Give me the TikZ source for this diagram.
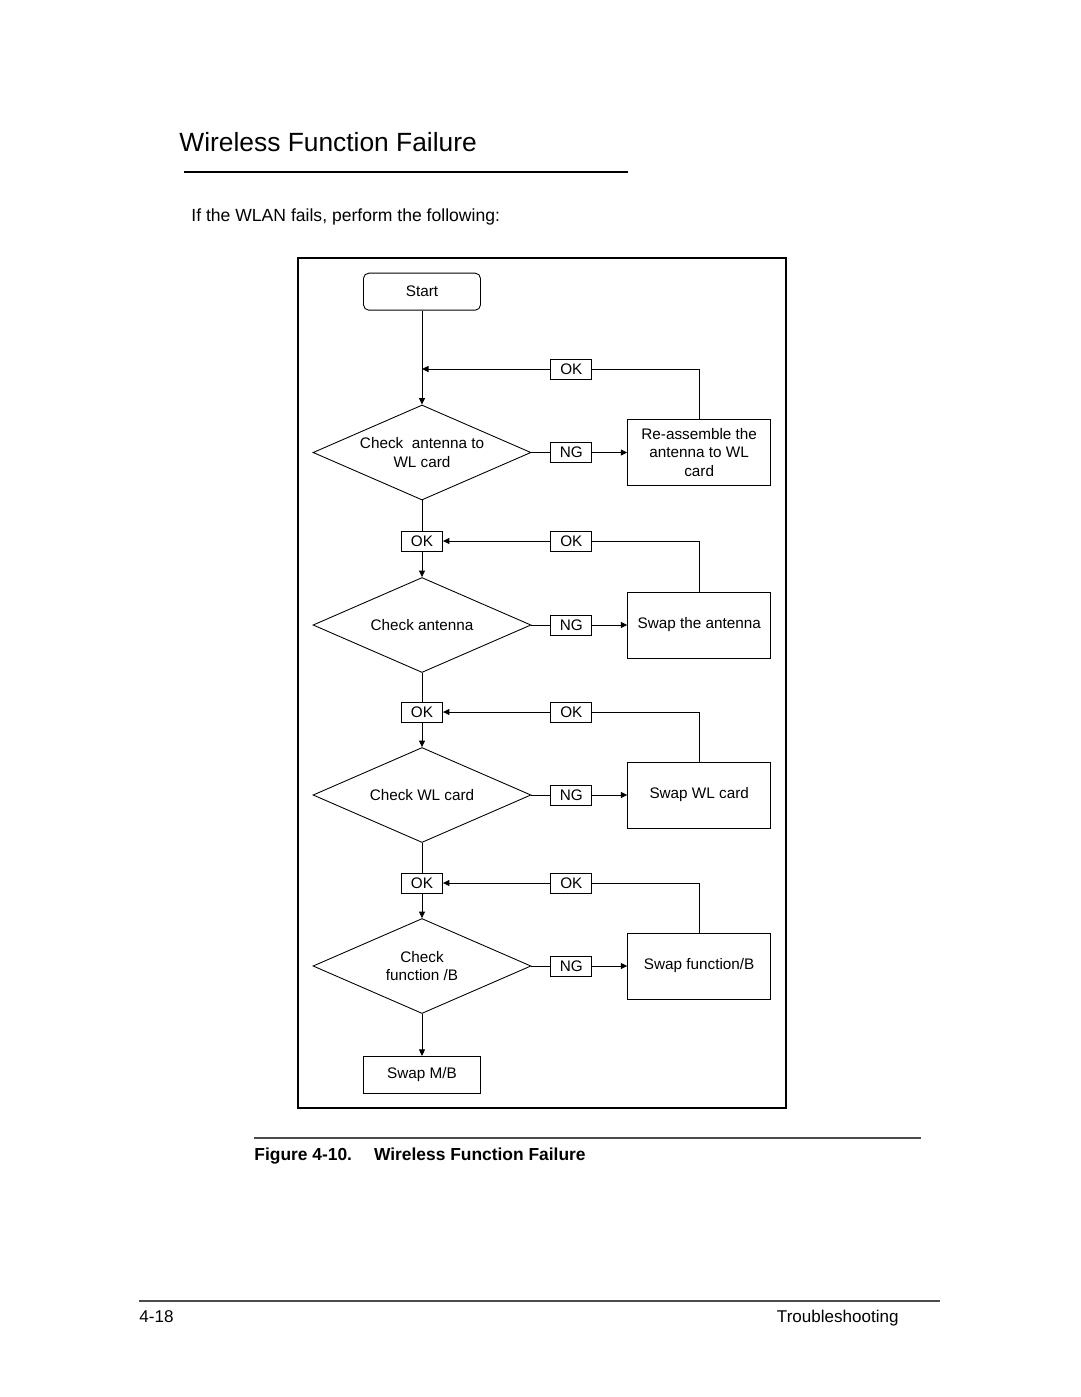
\documentclass[tikz,border=0pt]{standalone}
\usepackage{fontspec}
\setmainfont{Liberation Sans}
\usepackage{tikz}
\usetikzlibrary{positioning,shapes.geometric,fit,arrows.meta,calc}

\begin{document}
\begin{tikzpicture}[
    x=0.02cm, y=-0.02cm,
    font=\fontsize{8.7}{10.5}\selectfont,
    line width=0.5pt,
    term/.style  = {draw, rounded corners=3pt, minimum width=2.34cm,
                    minimum height=0.74cm, align=center},
    blk/.style   = {draw, minimum width=2.86cm, minimum height=1.32cm,
                    align=center, inner sep=1pt},
    dec/.style   = {draw, diamond, aspect=2.3, inner sep=0pt,
                    minimum width=4.36cm, minimum height=1.9cm, align=center},
    tag/.style   = {draw, minimum width=0.82cm, minimum height=0.4cm,
                    inner sep=0pt},
    lnk/.style   = {-{Triangle[length=1.3mm, width=1.2mm]}},
    page/.style  = {inner sep=0pt, anchor=base west},
]
\useasboundingbox (0,0) rectangle (1080,1397);

%============================ PAGE TEXT =============================
\node[page, font=\fontsize{15}{18}\selectfont] (title) at (179,151)
      {Wireless Function Failure};
\draw[line width=1.1pt] (184,172) -- (628,172);
\node[page, font=\fontsize{10}{12}\selectfont] (intro) at (191,221)
      {If the WLAN fails, perform the following:};

%============================ MAIN COLUMN ===========================
\node[dec] (d1) at (422,452.5) {Check\ \ antenna to\\WL card};
\node[term, above=1.88cm of d1] (start) {Start};
\coordinate (m0) at (start |- 0,369);
\node[tag] (ok1) at (422,541) {OK};
\node[dec] (d2) at (422,625) {Check antenna};
\node[tag] (ok2) at (422,712) {OK};
\node[dec] (d3) at (422,795) {Check WL card};
\node[tag] (ok3) at (422,883) {OK};
\node[dec] (d4) at (422,966) {Check\\function /B};
\node[draw, minimum width=2.34cm, minimum height=0.74cm,
      below=0.84cm of d4] (mb) {Swap M/B};

%============================ REPAIR COLUMN =========================
\node[tag, right=0.38cm of d1] (ng1) {NG};
\node[blk, right=0.7cm of ng1] (sw1) {Re-assemble the\\antenna to WL\\card};
\node[tag, right=0.38cm of d2] (ng2) {NG};
\node[blk, right=0.7cm of ng2] (sw2) {Swap the antenna};
\node[tag, right=0.38cm of d3] (ng3) {NG};
\node[blk, right=0.7cm of ng3] (sw3) {Swap WL card};
\node[tag, right=0.38cm of d4] (ng4) {NG};
\node[blk, right=0.7cm of ng4] (sw4) {Swap function/B};

\node[tag] (rok1) at (ng1 |- m0)  {OK};
\node[tag] (rok2) at (ng2 |- ok1) {OK};
\node[tag] (rok3) at (ng3 |- ok2) {OK};
\node[tag] (rok4) at (ng4 |- ok3) {OK};

%============================ CONNECTORS ============================
\draw[lnk] (start) -- (d1);
\draw (d1.south) -- (ok1.north);
\draw[lnk] (ok1.south) -- (d2.north);
\draw (d2.south) -- (ok2.north);
\draw[lnk] (ok2.south) -- (d3.north);
\draw (d3.south) -- (ok3.north);
\draw[lnk] (ok3.south) -- (d4.north);
\draw[lnk] (d4.south) -- (mb.north);

\draw (d1.east) -- (ng1.west);
\draw[lnk] (ng1.east) -- (sw1.west);
\draw (d2.east) -- (ng2.west);
\draw[lnk] (ng2.east) -- (sw2.west);
\draw (d3.east) -- (ng3.west);
\draw[lnk] (ng3.east) -- (sw3.west);
\draw (d4.east) -- (ng4.west);
\draw[lnk] (ng4.east) -- (sw4.west);

% --- retry loops back into the main column
\draw (sw1.north) |- (rok1.east);
\draw[lnk] (rok1.west) -- (m0);
\draw (sw2.north) |- (rok2.east);
\draw[lnk] (rok2.west) -- (ok1.east);
\draw (sw3.north) |- (rok3.east);
\draw[lnk] (rok3.west) -- (ok2.east);
\draw (sw4.north) |- (rok4.east);
\draw[lnk] (rok4.west) -- (ok3.east);

%============================ FRAME =================================
\node[draw, line width=1.2pt, inner xsep=0.3cm, inner ysep=0.29cm,
      fit=(start)(d1)(sw1)(mb)] (frame) {};

%============================ CAPTION / FOOTER ======================
\draw[line width=0.6pt, draw=black!70] (254,1138) -- (921,1138);
\node[page, font=\fontsize{9.9}{12}\selectfont\bfseries] (cap) at (254,1160)
      {Figure 4-10.\hspace{0.44cm}Wireless Function Failure};
\draw[line width=0.6pt, draw=black!70] (139,1301) -- (940,1301);
\node[page, font=\fontsize{9.7}{12}\selectfont] (pgno) at (139,1322) {4-18};
\node[inner sep=0pt, anchor=base east, font=\fontsize{9.7}{12}\selectfont]
      (chap) at (899,1322) {Troubleshooting};

\end{tikzpicture}
\end{document}
